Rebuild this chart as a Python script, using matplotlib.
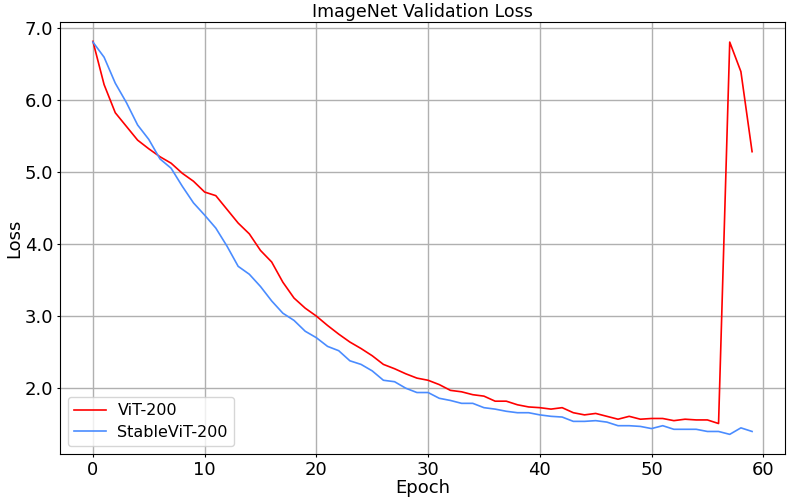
import numpy as np
import matplotlib
matplotlib.use('Agg')
import matplotlib.pyplot as plt

# Validation loss per epoch
epochs = np.arange(60)
vit_loss = [6.81, 6.21, 5.82, 5.63, 5.44, 5.32, 5.21, 5.12, 4.98, 4.87,
            4.72, 4.67, 4.48, 4.29, 4.14, 3.91, 3.75, 3.47, 3.25, 3.11,
            3.00, 2.87, 2.75, 2.64, 2.55, 2.45, 2.33, 2.27, 2.20, 2.14,
            2.11, 2.05, 1.97, 1.95, 1.91, 1.89, 1.82, 1.82, 1.77, 1.74,
            1.73, 1.71, 1.73, 1.66, 1.63, 1.65, 1.61, 1.57, 1.61, 1.57,
            1.58, 1.58, 1.55, 1.57, 1.56, 1.56, 1.51, 6.80, 6.39, 5.28]
stable_loss = [6.80, 6.59, 6.23, 5.96, 5.65, 5.45, 5.18, 5.05, 4.80, 4.57,
               4.40, 4.22, 3.97, 3.69, 3.58, 3.41, 3.21, 3.04, 2.94, 2.79,
               2.70, 2.58, 2.52, 2.38, 2.33, 2.24, 2.11, 2.09, 2.00, 1.94,
               1.94, 1.86, 1.83, 1.79, 1.79, 1.73, 1.71, 1.68, 1.66, 1.66,
               1.63, 1.61, 1.60, 1.54, 1.54, 1.55, 1.53, 1.48, 1.48, 1.47,
               1.44, 1.48, 1.43, 1.43, 1.43, 1.40, 1.40, 1.36, 1.45, 1.40]

fig = plt.figure(figsize=(7.87, 5.0), dpi=100)
ax = fig.add_axes([0.0762, 0.092, 0.9213, 0.8646])

ax.plot(epochs, vit_loss, color='red', linewidth=1.2, label='ViT-200')
ax.plot(epochs, stable_loss, color='#4a8cff', linewidth=1.2, label='StableViT-200')

ax.set_title('ImageNet Validation Loss', fontsize=12.5, pad=3.6)
ax.set_xlabel('Epoch', fontsize=13, labelpad=0)
ax.set_ylabel('Loss', fontsize=13, labelpad=1)
ax.set_yticks([2.0, 3.0, 4.0, 5.0, 6.0, 7.0])
ax.set_yticklabels(['2.0', '3.0', '4.0', '5.0', '6.0', '7.0'])
ax.tick_params(labelsize=13, length=2.5, pad=2.2)
ax.grid(True, color='#b0b0b0', linewidth=1.0)
ax.legend(loc='lower left', fontsize=11.5, labelspacing=0.4, handletextpad=0.7)

fig.savefig('out.png', dpi=100)
